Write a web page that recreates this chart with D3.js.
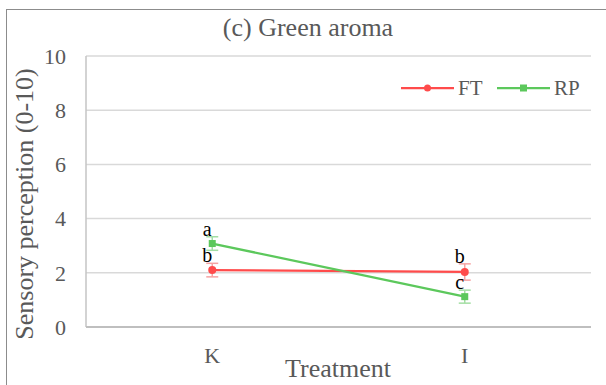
<!DOCTYPE html>
<html>
<head>
<meta charset="utf-8">
<script src="https://cdn.jsdelivr.net/npm/d3@7"></script>
<style>
  body { margin: 0; background: #fff; }
</style>
</head>
<body>
<script>
// data
const treatments = ["K", "I"];
const seriesNames = ["FT", "RP"];
const ftValues = [2.1, 2.03];
const ftErrors = [0.25, 0.3];
const ftLetters = ["b", "b"];
const rpValues = [3.08, 1.12];
const rpErrors = [0.25, 0.24];
const rpLetters = ["a", "c"];
const yTicks = [0, 2, 4, 6, 8, 10];

const colors = {FT: "#ff4b4b", RP: "#5cc85c"};
const errColors = {FT: "#f6a3a3", RP: "#a3dea3"};
const FONT = "'Liberation Serif', 'Times New Roman', serif";

const series = [
    {name: "FT", values: ftValues, errors: ftErrors, letters: ftLetters},
    {name: "RP", values: rpValues, errors: rpErrors, letters: rpLetters}
];

let width = 606, height = 385;
let margin = {top: 56, right: 15, bottom: 58, left: 86};

let svg = d3.select("body").append("svg")
    .attr("width", width)
    .attr("height", height)
    .attr("font-family", FONT);

// outer frame
svg.append("rect")
    .attr("x", 6.5).attr("y", 9.5)
    .attr("width", 620).attr("height", 400)
    .attr("fill", "none")
    .attr("stroke", "#8c8c8c")
    .attr("stroke-width", 1);

let x = d3.scaleBand()
    .domain(treatments)
    .range([margin.left, width - margin.right]);

let y = d3.scaleLinear()
    .domain([0, 10])
    .range([height - margin.bottom, margin.top]);

let xc = d => x(d) + x.bandwidth() / 2;

// gridlines
svg.append("g")
    .selectAll("line")
    .data(yTicks.filter(t => t > 0))
    .join("line")
    .attr("x1", margin.left).attr("x2", width - margin.right)
    .attr("y1", d => y(d)).attr("y2", d => y(d))
    .attr("stroke", "#d9d9d9")
    .attr("stroke-width", 1.5);

// axes lines
svg.append("line")
    .attr("x1", margin.left).attr("x2", margin.left)
    .attr("y1", y(10)).attr("y2", y(0))
    .attr("stroke", "#c4c4c4").attr("stroke-width", 1.5);
svg.append("line")
    .attr("x1", margin.left).attr("x2", width - margin.right)
    .attr("y1", y(0)).attr("y2", y(0))
    .attr("stroke", "#bfbfbf").attr("stroke-width", 2);

// y tick labels
svg.append("g")
    .selectAll("text")
    .data(yTicks)
    .join("text")
    .attr("x", 66)
    .attr("y", d => y(d))
    .attr("dy", "0.35em")
    .attr("text-anchor", "end")
    .attr("font-size", 22)
    .attr("fill", "#595959")
    .text(d => d);

// x tick labels
svg.append("g")
    .selectAll("text")
    .data(treatments)
    .join("text")
    .attr("x", d => xc(d))
    .attr("y", 363)
    .attr("text-anchor", "middle")
    .attr("font-size", 22)
    .attr("fill", "#595959")
    .text(d => d);

// titles
svg.append("text")
    .attr("x", 308).attr("y", 36)
    .attr("text-anchor", "middle")
    .attr("font-size", 26)
    .attr("fill", "#595959")
    .text("(c) Green aroma");

svg.append("text")
    .attr("x", 338).attr("y", 377)
    .attr("text-anchor", "middle")
    .attr("font-size", 26)
    .attr("fill", "#595959")
    .text("Treatment");

svg.append("text")
    .attr("transform", "translate(33," + 204 + ") rotate(-90)")
    .attr("text-anchor", "middle")
    .attr("font-size", 26)
    .attr("fill", "#595959")
    .text("Sensory perception (0-10)");

// error bars
let capW = 6;
for (let s of series) {
    let g = svg.append("g");
    let rows = treatments.map((t, i) => ({t: t, v: s.values[i], e: s.errors[i]}));
    g.selectAll("line.v").data(rows).join("line")
        .attr("x1", d => xc(d.t)).attr("x2", d => xc(d.t))
        .attr("y1", d => y(d.v - d.e)).attr("y2", d => y(d.v + d.e))
        .attr("stroke", errColors[s.name]).attr("stroke-width", 1.5);
    g.selectAll("line.top").data(rows).join("line")
        .attr("x1", d => xc(d.t) - capW).attr("x2", d => xc(d.t) + capW)
        .attr("y1", d => y(d.v + d.e)).attr("y2", d => y(d.v + d.e))
        .attr("stroke", errColors[s.name]).attr("stroke-width", 1.5);
    g.selectAll("line.bot").data(rows).join("line")
        .attr("x1", d => xc(d.t) - capW).attr("x2", d => xc(d.t) + capW)
        .attr("y1", d => y(d.v - d.e)).attr("y2", d => y(d.v - d.e))
        .attr("stroke", errColors[s.name]).attr("stroke-width", 1.5);
}

// lines and markers
let line = d3.line().x((d, i) => xc(treatments[i])).y(d => y(d));
for (let s of series) {
    svg.append("path")
        .datum(s.values)
        .attr("d", line)
        .attr("fill", "none")
        .attr("stroke", colors[s.name])
        .attr("stroke-width", 2.25);
    let g = svg.append("g");
    if (s.name === "FT") {
        g.selectAll("circle").data(s.values).join("circle")
            .attr("cx", (d, i) => xc(treatments[i]))
            .attr("cy", d => y(d))
            .attr("r", 4)
            .attr("fill", colors[s.name]);
    } else {
        g.selectAll("rect").data(s.values).join("rect")
            .attr("x", (d, i) => xc(treatments[i]) - 3.5)
            .attr("y", d => y(d) - 3.5)
            .attr("width", 7).attr("height", 7)
            .attr("fill", colors[s.name]);
    }
    // significance letters
    svg.append("g").selectAll("text")
        .data(s.values)
        .join("text")
        .attr("x", (d, i) => xc(treatments[i]) - 5)
        .attr("y", (d, i) => y(d + s.errors[i]) - 1)
        .attr("text-anchor", "middle")
        .attr("font-size", 20)
        .attr("fill", "#000")
        .text((d, i) => s.letters[i]);
}

// legend
let legend = svg.append("g");
let legendX = [401, 497];
seriesNames.forEach((name, i) => {
    let lg = legend.append("g").attr("transform", "translate(" + legendX[i] + ",88)");
    lg.append("line")
        .attr("x1", 0).attr("x2", 53)
        .attr("stroke", colors[name]).attr("stroke-width", 2.25);
    if (name === "FT") {
        lg.append("circle").attr("cx", 26.5).attr("r", 3.5).attr("fill", colors[name]);
    } else {
        lg.append("rect").attr("x", 23).attr("y", -3.5)
            .attr("width", 7).attr("height", 7).attr("fill", colors[name]);
    }
    lg.append("text")
        .attr("x", 57).attr("dy", "0.35em")
        .attr("font-size", 21)
        .attr("fill", "#595959")
        .text(name);
});
</script>
</body>
</html>
